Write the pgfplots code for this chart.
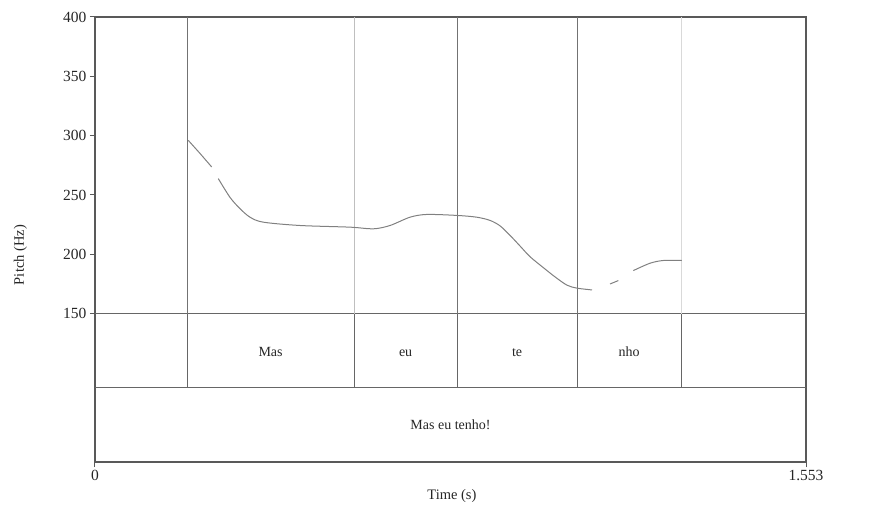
\documentclass[border=0pt]{standalone}
\usepackage{pgfplots}
\pgfplotsset{compat=1.18}
\usepackage{fontspec}
\setmainfont{Liberation Serif}
\begin{document}
\begin{tikzpicture}
\begin{axis}[
 scale only axis, width=711pt, height=445pt,
 xmin=0, xmax=1.553, ymin=25, ymax=400,
 axis line style={draw=black!65, line width=1.6pt},
 xtick={0,1.553}, xticklabels={0,1.553},
 ytick={150,200,...,400},
 tick align=outside, tick pos=left,
 major tick length=5pt,
 tick style={draw=black!65, line width=1pt},
 ticklabel style={font=\fontsize{15.5}{17}\selectfont, text=black!85},
 /pgf/number format/assume math mode=true,
 xlabel={Time (s)}, ylabel={Pitch (Hz)},
 label style={font=\fontsize{14.5}{16}\selectfont, text=black!85},
 xlabel style={at={(axis description cs:0.502,-0.076)}, anchor=center},
 ylabel style={at={(axis description cs:-0.105,0.465)}, anchor=center},
 unbounded coords=jump, clip=false
]
% horizontal tier lines
\addplot[black!60, line width=1pt] coordinates {(0,150) (1.553,150)};
\addplot[black!60, line width=1pt] coordinates {(0,87.5) (1.553,87.5)};
% boundaries in pitch area
\addplot[black!55, line width=0.8pt] coordinates {(0.201,150) (0.201,400)};
\addplot[black!25, line width=0.8pt] coordinates {(0.566,150) (0.566,400)};
\addplot[black!55, line width=0.8pt] coordinates {(0.791,150) (0.791,400)};
\addplot[black!55, line width=0.8pt] coordinates {(1.053,150) (1.053,400)};
\addplot[black!15, line width=0.8pt] coordinates {(1.280,150) (1.280,400)};
% boundaries in word tier
\addplot[black!60, line width=1pt] coordinates {(0.201,87.5) (0.201,150)};
\addplot[black!60, line width=1pt] coordinates {(0.566,87.5) (0.566,150)};
\addplot[black!60, line width=1pt] coordinates {(0.791,87.5) (0.791,150)};
\addplot[black!60, line width=1pt] coordinates {(1.053,87.5) (1.053,150)};
\addplot[black!60, line width=1pt] coordinates {(1.280,87.5) (1.280,150)};
% pitch contour
\addplot[black!50, line width=1pt, smooth] coordinates {
(0.2038,296) (0.2294,285) (0.2549,273.6) (0.262,nan)
(0.2693,263.8) (0.2949,248) (0.3167,238.5) (0.3386,231.3) (0.3676,227.1)
(0.4478,224.3) (0.5570,222.9) (0.6079,221.5) (0.6444,224.3) (0.6881,231.3)
(0.7246,233.6) (0.7901,232.8) (0.8338,231.3) (0.8628,228.6) (0.8847,224)
(0.9065,216) (0.9284,207) (0.9502,198) (0.9786,189) (1.0048,181)
(1.0310,174) (1.0529,171.5) (1.0856,170) (1.10,nan)
(1.1249,175) (1.1431,177.9) (1.16,nan)
(1.1758,186.3) (1.2123,192.5) (1.2414,194.8) (1.2816,194.8)
};
% tier texts
\tikzset{tier/.style={font=\fontsize{14}{16}\selectfont, text=black!85, text height=9.5pt, text depth=3pt}}
\node[tier] at (axis cs:0.3835,116.5) {Mas};
\node[tier] at (axis cs:0.6785,116.5) {eu};
\node[tier] at (axis cs:0.922,116.5) {te};
\node[tier] at (axis cs:1.1665,116.5) {nho};
\node[tier] at (axis cs:0.7765,55) {Mas eu tenho!};
\coordinate (O) at (rel axis cs:0,0);
\end{axis}
\path[use as bounding box] ([shift={(-95pt,-44pt)}]O) rectangle ++(881pt,506pt);
\end{tikzpicture}
\end{document}
